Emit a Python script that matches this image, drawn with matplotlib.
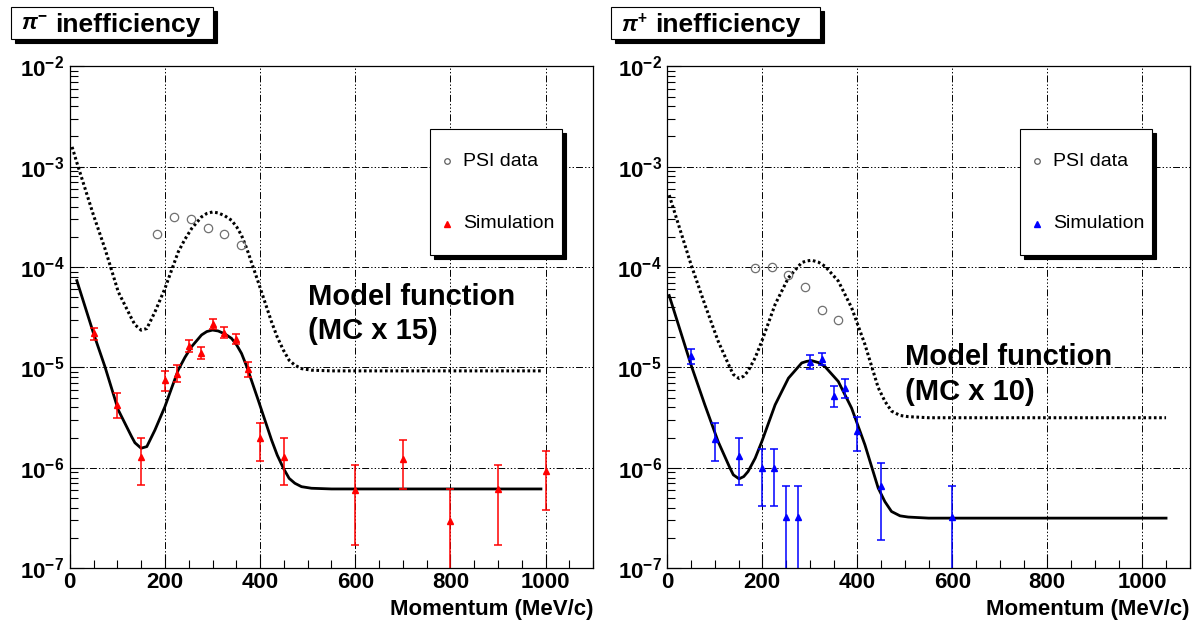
import matplotlib
matplotlib.use("Agg")
import matplotlib.pyplot as plt
import numpy as np
from matplotlib.patches import Rectangle
from matplotlib.lines import Line2D
from matplotlib.ticker import FixedLocator, FuncFormatter, LogLocator, MultipleLocator, NullFormatter

plt.rcParams['font.family'] = ['Liberation Sans', 'DejaVu Sans']
plt.rcParams['font.weight'] = 'bold'
plt.rcParams['mathtext.fontset'] = 'custom'
plt.rcParams['mathtext.rm'] = 'Liberation Sans'
plt.rcParams['mathtext.it'] = 'Liberation Sans:italic'
plt.rcParams['mathtext.bf'] = 'Liberation Sans:bold'
plt.rcParams['lines.scale_dashes'] = False

W, H = 1193, 620

# ---- pi- panel ----
model_l_x = [5, 15, 50, 74, 102, 130, 137, 150, 162, 179, 200, 214, 228, 242, 256, 277, 288, 300,
             312, 326, 340, 351, 361, 372, 396, 410, 424, 436, 449, 461, 473, 487, 508, 550, 990]
model_l_y = [1.05e-4, 7.33e-5, 2.19e-5, 1.02e-5, 3.78e-6, 2.05e-6, 1.78e-6, 1.57e-6, 1.63e-6, 2.38e-6,
             4.07e-6, 6.21e-6, 9.44e-6, 1.26e-5, 1.61e-5, 2.11e-5, 2.28e-5, 2.36e-5, 2.31e-5, 2.16e-5,
             1.95e-5, 1.67e-5, 1.38e-5, 1.02e-5, 4.74e-6, 3.0e-6, 1.90e-6, 1.34e-6, 9.91e-7, 7.87e-7,
             7.03e-7, 6.50e-7, 6.27e-7, 6.17e-7, 6.17e-7]
solid_start_l = 15
mc_scale_l = 15

psi_l_x = [184, 220, 254, 290, 325, 359]
psi_l_y = [2.14e-4, 3.16e-4, 2.99e-4, 2.43e-4, 2.14e-4, 1.66e-4]

sim_l_x = [50, 100, 150, 200, 225, 250, 275, 300, 325, 350, 375, 400, 450, 600, 700, 800, 900, 1000]
sim_l_y = [2.19e-5, 4.23e-6, 1.29e-6, 7.5e-6, 8.6e-6, 1.64e-5, 1.38e-5, 2.69e-5, 2.22e-5, 1.92e-5,
           9.66e-6, 1.97e-6, 1.29e-6, 6.0e-7, 1.24e-6, 2.94e-7, 6.1e-7, 9.25e-7]
sim_l_hi = [2.45e-5, 5.61e-6, 1.97e-6, 9.3e-6, 1.06e-5, 1.88e-5, 1.61e-5, 3.02e-5, 2.51e-5, 2.16e-5,
            1.14e-5, 2.82e-6, 1.97e-6, 1.07e-6, 1.88e-6, 6.14e-7, 1.07e-6, 1.49e-6]
sim_l_lo = [1.88e-5, 3.12e-6, 6.76e-7, 5.87e-6, 7.2e-6, 1.44e-5, 1.21e-5, 2.4e-5, 1.95e-5, 1.7e-5,
            7.98e-6, 1.17e-6, 6.76e-7, 1.69e-7, 6.14e-7, 0, 1.69e-7, 3.79e-7]

# ---- pi+ panel ----
model_r_x = [4, 50, 79, 107, 132, 139, 151, 161, 170, 185, 199, 227, 255, 283, 293, 304, 318, 332,
             360, 388, 416, 444, 458, 472, 490, 507, 550, 1050]
model_r_y = [5.21e-5, 1.06e-5, 4.25e-6, 1.83e-6, 9.95e-7, 8.53e-7, 7.78e-7, 8.20e-7, 9.20e-7, 1.25e-6,
             1.83e-6, 4.25e-6, 7.83e-6, 1.11e-5, 1.15e-5, 1.17e-5, 1.12e-5, 1.02e-5, 7.26e-6, 3.94e-6,
             1.70e-6, 6.30e-7, 4.62e-7, 3.68e-7, 3.33e-7, 3.24e-7, 3.16e-7, 3.16e-7]
solid_start_r = 4
mc_scale_r = 10

psi_r_x = [185, 220, 255, 290, 325, 360]
psi_r_y = [9.77e-5, 1.0e-4, 8.37e-5, 6.27e-5, 3.76e-5, 2.94e-5]

sim_r_x = [50, 100, 150, 200, 225, 250, 275, 300, 325, 350, 375, 400, 450, 600]
sim_r_y = [1.29e-5, 1.95e-6, 1.3e-6, 9.95e-7, 9.95e-7, 3.24e-7, 3.24e-7, 1.13e-5, 1.22e-5, 5.22e-6,
           6.24e-6, 2.31e-6, 6.53e-7, 3.24e-7]
sim_r_hi = [1.52e-5, 2.83e-6, 1.98e-6, 1.55e-6, 1.55e-6, 6.64e-7, 6.64e-7, 1.34e-5, 1.39e-5, 6.58e-6,
            7.66e-6, 3.21e-6, 1.13e-6, 6.64e-7]
sim_r_lo = [1.08e-5, 1.18e-6, 6.68e-7, 4.19e-7, 4.19e-7, 0, 0, 9.64e-6, 1.06e-5, 4.0e-6,
            4.95e-6, 1.46e-6, 1.92e-7, 0]

x_ticks = [0, 200, 400, 600, 800, 1000]


def fx(px):
    return px / W


def fy(py):
    return 1 - py / H


def shadow_box(x0, y0, x1, y1, off=4):
    # ROOT style box with black drop shadow, pixel coords
    fig.add_artist(Rectangle((fx(x0 + off), fy(y1 + off)), fx(x1 - x0), (y1 - y0) / H,
                             transform=fig.transFigure, facecolor='black', edgecolor='black', lw=0.8))
    fig.add_artist(Rectangle((fx(x0), fy(y1)), fx(x1 - x0), (y1 - y0) / H,
                             transform=fig.transFigure, facecolor='white', edgecolor='black', lw=0.8))


def draw_panel(rect, mx, my, solid_start, scale, px_, py_, sx, sy, shi, slo, color):
    ax = fig.add_axes(rect)
    ax.set_yscale('log', nonpositive='clip')
    ax.set_xlim(0, 1100)
    ax.set_ylim(1e-7, 1e-2)

    mx = np.array(mx)
    my = np.array(my)
    ax.plot(mx, my * scale, color='black', lw=2.2, ls=(0, (1.9, 1.9)), dash_capstyle='butt')
    keep = mx >= solid_start
    ax.plot(mx[keep], my[keep], color='black', lw=2.0)

    ax.plot(px_, py_, 'o', ms=6, mfc='none', mec='#707070', mew=0.9)

    sy = np.array(sy)
    lo = np.maximum(np.array(slo), 1e-10)
    err = [sy - lo, np.array(shi) - sy]
    ax.errorbar(sx, sy, yerr=err, fmt='^', color=color, ms=5, elinewidth=1.1,
                capsize=2.6, capthick=1.1)

    ax.xaxis.set_major_locator(FixedLocator(x_ticks))
    ax.xaxis.set_minor_locator(MultipleLocator(50))
    ax.yaxis.set_major_locator(LogLocator(base=10))
    ax.yaxis.set_minor_locator(LogLocator(base=10, subs=np.arange(2, 10)))
    ax.yaxis.set_minor_formatter(NullFormatter())
    ax.yaxis.set_major_formatter(FuncFormatter(lambda v, p: r'$\mathbf{10^{%d}}$' % round(np.log10(v))))
    ax.tick_params(which='both', direction='in', top=False, right=False, width=0.8, labelsize=16)
    ax.tick_params(which='major', length=10)
    ax.tick_params(which='minor', length=6)
    ax.tick_params(axis='x', pad=3)
    ax.tick_params(axis='y', pad=4)
    ax.grid(True, which='major', color='black', lw=0.7, ls=(0, (5, 1.5, 1, 1.5, 1, 1.5, 1, 1.5)))
    for s in ax.spines.values():
        s.set_linewidth(0.9)
    return ax


fig = plt.figure(figsize=(W / 100, H / 100), dpi=100)

ax_l = draw_panel([fx(69.7), fy(568.3), fx(593.3 - 69.7), (568.3 - 66.3) / H],
                  model_l_x, model_l_y, solid_start_l, mc_scale_l, psi_l_x, psi_l_y,
                  sim_l_x, sim_l_y, sim_l_hi, sim_l_lo, '#ff0000')
ax_r = draw_panel([fx(667.3), fy(568.3), fx(1189.8 - 667.3), (568.3 - 66.3) / H],
                  model_r_x, model_r_y, solid_start_r, mc_scale_r, psi_r_x, psi_r_y,
                  sim_r_x, sim_r_y, sim_r_hi, sim_r_lo, '#0000ff')

# titles
for x0, x1, sign in [(11, 213, '-'), (611, 820, '+')]:
    shadow_box(x0, 7, x1, 39)
    fig.text(fx(x0 + 10), fy(25), r'$\pi^{%s}$' % sign, fontsize=16, fontweight='normal',
             ha='left', va='center')
    fig.text(fx(x0 + 44), fy(25), 'inefficiency', fontsize=19, fontweight='bold',
             ha='left', va='center')

# legends
for x0, color in [(430, '#ff0000'), (1020, '#0000ff')]:
    shadow_box(x0, 129, x0 + 132, 255)
    fig.add_artist(Line2D([fx(x0 + 17)], [fy(161)], marker='o', ms=4, mfc='none', mec='#606060',
                          mew=0.9, transform=fig.transFigure))
    fig.add_artist(Line2D([fx(x0 + 17)], [fy(224)], marker='^', ms=4.5, color=color, lw=0,
                          transform=fig.transFigure))
    fig.text(fx(x0 + 33), fy(161), 'PSI data', fontsize=14, fontweight='normal', ha='left', va='center')
    fig.text(fx(x0 + 33), fy(224), 'Simulation', fontsize=14, fontweight='normal', ha='left', va='center')

# model annotations
fig.text(fx(308), fy(297), 'Model function', fontsize=21, fontweight='bold', ha='left', va='center')
fig.text(fx(308), fy(331), '(MC x 15)', fontsize=21, fontweight='bold', ha='left', va='center')
fig.text(fx(905), fy(357), 'Model function', fontsize=21, fontweight='bold', ha='left', va='center')
fig.text(fx(905), fy(392), '(MC x 10)', fontsize=21, fontweight='bold', ha='left', va='center')

# axis titles
fig.text(fx(593), fy(609), 'Momentum (MeV/c)', fontsize=16, fontweight='bold', ha='right', va='center')
fig.text(fx(1190), fy(609), 'Momentum (MeV/c)', fontsize=16, fontweight='bold', ha='right', va='center')

fig.savefig('out.png', dpi=100)
